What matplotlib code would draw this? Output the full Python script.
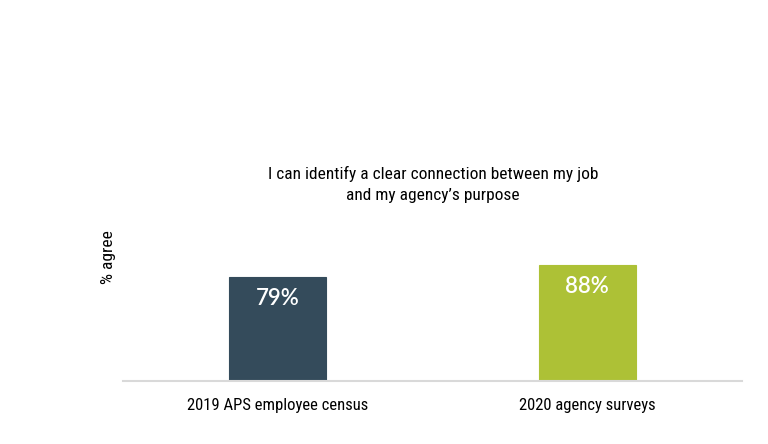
import matplotlib
matplotlib.use("Agg")
import matplotlib.pyplot as plt

categories = ["2019 APS employee census", "2020 agency surveys"]
values = [79, 88]
value_labels = ["79%", "88%"]
colors = ["#344b5b", "#adc136"]
title_lines = ["I can identify a clear connection between my job",
               "and my agency\u2019s purpose"]
ylabel = "% agree"

narrow = ["Roboto Condensed", "Liberation Sans Narrow", "Liberation Sans", "DejaVu Sans"]

fig = plt.figure(figsize=(7.68, 4.44), dpi=100)
ax = fig.add_axes([123/768, 63/444, 619/768, 131.65/444])

x = list(range(len(categories)))
ax.bar(x, values, width=0.313, color=colors, edgecolor=colors, linewidth=0.8)
for xi, v, lab in zip(x, values, value_labels):
    ax.text(xi, v - 8, lab, ha="center", va="top", color="white",
            fontsize=16, weight="semibold", family=["Lato", "DejaVu Sans"])

ax.set_xlim(-0.5, 1.5)
ax.set_ylim(0, 100)
for s in ["top", "right", "left"]:
    ax.spines[s].set_visible(False)
ax.spines["bottom"].set_color("#d9d9d9")
ax.spines["bottom"].set_linewidth(1.5)
ax.set_yticks([])
ax.set_xticks(x)
ax.set_xticklabels(categories, family=narrow, fontsize=12, color="#000000")
ax.tick_params(axis="x", length=0, pad=12)

fig.text(109/768, 1 - 257/444, ylabel, rotation=90, ha="center", va="center",
         family=narrow, fontsize=12.5, color="#000000")
for i, line in enumerate(title_lines):
    fig.text(433/768, 1 - (179 + 21 * i)/444, line, ha="center", va="baseline",
             family=narrow, fontsize=12.5, color="#000000")

fig.savefig("out.png", dpi=100, facecolor="white")
